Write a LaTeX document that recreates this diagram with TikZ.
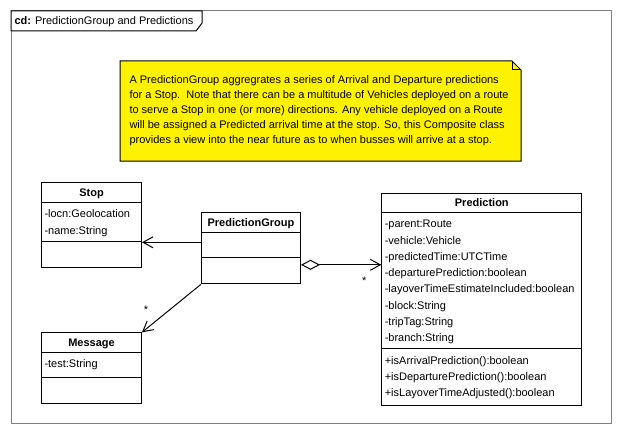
\documentclass[tikz,border=0pt]{standalone}
\usepackage{fontspec}
\setmainfont{Liberation Sans}
\usetikzlibrary{arrows.meta,positioning}

\tikzset{
  clsbox/.style={draw,fill=white,anchor=north west,inner sep=0pt},
  clsname/.style={anchor=base,inner sep=0pt,font=\fontsize{11}{16.5}\selectfont\bfseries},
  members/.style={anchor=north west,align=left,inner xsep=3pt,inner ysep=7pt},
  mult/.style={anchor=base,inner sep=0pt}
}

\begin{document}
\begin{tikzpicture}[x=1pt,y=-1pt,line width=1pt,font=\fontsize{11}{16.5}\selectfont]
\useasboundingbox[fill=white] (0,0) rectangle (621,444);
% frame and tab
\draw[gray] (11,11) rectangle (611,423);
\draw[fill=white] (11,11) -- (202,11) -- (202,23) -- (196,31) -- (11,31) -- cycle;
\node[anchor=base west,inner sep=0pt] (frametitle) at (14,25) {\textbf{cd:} PredictionGroup and Predictions};
% note
\draw[fill=yellow] (120,61) -- (512,61) -- (521,70) -- (521,161) -- (120,161) -- cycle;
\draw (512,61) -- (512,70) -- (521,70);
\node[anchor=north west,align=left,inner sep=0pt,font=\fontsize{11}{15}\selectfont] (note) at (129,75)
  {A PredictionGroup aggregrates a series of Arrival and Departure predictions\\
   for a Stop.\ \ Note that there can be a multitude of Vehicles deployed on a route\\
   to serve a Stop in one (or more) directions. Any vehicle deployed on a Route\\
   will be assigned a Predicted arrival time at the stop. So, this Composite class\\
   provides a view into the near future as to when busses will arrive at a stop.};

% classes
\node[clsbox,minimum width=100pt,minimum height=85pt] (stop) at (41,182.3) {};
\node[clsname] (stopname) at ([yshift=-14pt]stop.north) {Stop};
\draw ([yshift=-20pt]stop.north west) -- ([yshift=-20pt]stop.north east);
\node[members] (stopattr) at ([yshift=-20pt]stop.north west) {-locn:Geolocation\\-name:String};
\draw ([yshift=-59.4pt]stop.north west) -- ([yshift=-59.4pt]stop.north east);

\node[clsbox,minimum width=99pt,minimum height=71pt] (pg) at (201,212.3) {};
\node[clsname] (pgname) at ([yshift=-14pt]pg.north) {PredictionGroup};
\draw ([yshift=-20pt]pg.north west) -- ([yshift=-20pt]pg.north east);
\draw ([yshift=-45pt]pg.north west) -- ([yshift=-45pt]pg.north east);

\node[clsbox,minimum width=100pt,minimum height=70.4pt] (msg) at (41,332.3) {};
\node[clsname] (msgname) at ([yshift=-14pt]msg.north) {Message};
\draw ([yshift=-20pt]msg.north west) -- ([yshift=-20pt]msg.north east);
\node[members] (msgattr) at ([yshift=-20pt]msg.north west) {-test:String};
\draw ([yshift=-45pt]msg.north west) -- ([yshift=-45pt]msg.north east);

\node[clsbox,minimum width=200pt,minimum height=212pt] (pred) at (381.3,192.7) {};
\node[clsname] (predname) at ([yshift=-14pt]pred.north) {Prediction};
\draw ([yshift=-20pt]pred.north west) -- ([yshift=-20pt]pred.north east);
\node[members,font=\fontsize{11}{16.3}\selectfont] (predattr) at ([yshift=-20pt]pred.north west)
  {-parent:Route\\-vehicle:Vehicle\\-predictedTime:UTCTime\\-departurePrediction:boolean\\
   -layoverTimeEstimateIncluded:boolean\\-block:String\\-tripTag:String\\-branch:String};
\draw ([yshift=-156pt]pred.north west) -- ([yshift=-156pt]pred.north east);
\node[members,font=\fontsize{11}{16}\selectfont] (predops) at ([yshift=-156pt]pred.north west)
  {+isArrivalPrediction():boolean\\+isDeparturePrediction():boolean\\+isLayoverTimeAdjusted():boolean};

% connectors
\begin{scope}[>={Straight Barb[length=10pt,width=11pt]}]
  \draw[->] ([yshift=6pt]pg.west) -- ([yshift=6pt]pg.west -| stop.east);
  \draw[{Diamond[open,length=19pt,width=10pt]}->] ([yshift=-16.5pt]pg.east) -- ([yshift=-16.5pt]pg.east -| pred.west)
    node[mult,xshift=-17pt,yshift=-20pt] (aggmult) {*};
  \draw[->] (pg.south west) -- (msg.north east)
    node[mult,xshift=4pt,yshift=19pt] (msgmult) {*};
\end{scope}
\end{tikzpicture}
\end{document}
